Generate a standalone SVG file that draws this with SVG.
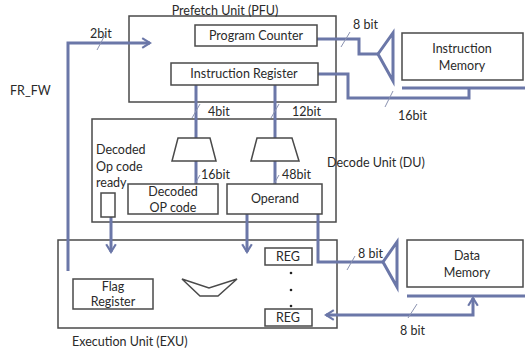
<svg xmlns="http://www.w3.org/2000/svg" width="525" height="350" viewBox="0 0 525 350">
<defs>
<style>
.box{fill:#fff;stroke:#4a4a4a;stroke-width:1.5}
.unit{fill:none;stroke:#4a4a4a;stroke-width:1.5}
.t{font-family:Lato,"Open Sans","Liberation Sans",sans-serif;font-size:12.5px;fill:#2a2a2a}
.c{text-anchor:middle}
.w{fill:none;stroke:#6b77a8;stroke-width:3;stroke-linejoin:miter}
.tick{stroke:#8a92b0;stroke-width:1}
.bar{stroke:#6b77a8;stroke-width:3}
</style>
<marker id="arr" viewBox="0 0 10 10" refX="8" refY="5" markerWidth="4" markerHeight="4" orient="auto-start-reverse" markerUnits="strokeWidth">
<path d="M1.5,1 L8,5 L1.5,9" fill="none" stroke="#6b77a8" stroke-width="1.8"/>
</marker>
</defs>
<rect width="525" height="350" fill="#fff"/>

<g id="pfu">
<rect class="unit" x="129" y="16" width="207" height="86"/>
<text class="t c" x="225" y="15">Prefetch Unit (PFU)</text>
</g>
<g id="du">
<rect class="unit" x="92" y="119" width="244" height="103"/>
<text class="t" x="327" y="167">Decode Unit (DU)</text>
<text class="t" x="96" y="154">Decoded</text>
<text class="t" x="96" y="171">Op code</text>
<text class="t" x="96" y="187">ready</text>
</g>
<g id="exu">
<rect class="unit" x="58" y="240" width="279" height="88"/>
<text class="t" x="72" y="346">Execution Unit (EXU)</text>
</g>

<g id="connectors">
<polyline class="w" points="68,271 68,43 150,43" marker-end="url(#arr)"/>
<polyline class="w" points="313,39 359,39 359,54 378,54"/>
<polyline class="w" points="313,74 348,74 348,98 469,98 469,88"/>
<line class="w" x1="196" y1="85" x2="196" y2="138"/>
<line class="w" x1="275" y1="85" x2="275" y2="138"/>
<line class="w" x1="196" y1="161" x2="196" y2="184"/>
<line class="w" x1="275" y1="161" x2="275" y2="184"/>
<line class="w" x1="111" y1="217" x2="111" y2="252" marker-end="url(#arr)"/>
<line class="w" x1="247" y1="214" x2="247" y2="252" marker-end="url(#arr)"/>
<polyline class="w" points="318,214 318,262 383,262"/>
<polyline class="w" points="326,315 473,315 473,298" marker-start="url(#arr)" marker-end="url(#arr)"/>
<line class="tick" x1="97" y1="50" x2="105" y2="35"/>
<line class="tick" x1="341" y1="47" x2="350" y2="32"/>
<line class="tick" x1="385" y1="107" x2="393" y2="91"/>
<line class="tick" x1="192" y1="118" x2="200" y2="104"/>
<line class="tick" x1="271" y1="118" x2="279" y2="104"/>
<line class="tick" x1="192" y1="189" x2="200" y2="175"/>
<line class="tick" x1="271" y1="189" x2="279" y2="175"/>
<line class="tick" x1="347" y1="270" x2="355" y2="256"/>
<line class="tick" x1="408" y1="318" x2="417" y2="304"/>
<text class="t" x="90" y="38">2bit</text>
<text class="t" x="353" y="29">8 bit</text>
<text class="t" x="398" y="120">16bit</text>
<text class="t" x="208" y="116">4bit</text>
<text class="t" x="292" y="116">12bit</text>
<text class="t" x="201" y="179">16bit</text>
<text class="t" x="282" y="179">48bit</text>
<text class="t" x="358" y="258">8 bit</text>
<text class="t" x="400" y="335">8 bit</text>
<text class="t" x="10" y="95">FR_FW</text>
</g>

<g id="program-counter">
<rect class="box" x="195" y="25" width="122" height="21"/>
<text class="t c" x="256" y="40">Program Counter</text>
</g>
<g id="instruction-register">
<rect class="box" x="171" y="63" width="147" height="22"/>
<text class="t c" x="244" y="78">Instruction Register</text>
</g>
<g id="instruction-memory">
<rect class="box" x="402" y="33" width="121" height="47"/>
<text class="t c" x="462" y="53">Instruction</text>
<text class="t c" x="462" y="70">Memory</text>
<line class="bar" x1="402" y1="88" x2="525" y2="88"/>
<polygon class="w" points="378,54 393,33 393,81"/>
</g>
<g id="mux-opcode">
<polygon class="box" points="178,138 210,138 216,161 172,161"/>
</g>
<g id="mux-operand">
<polygon class="box" points="257,138 292,138 299,161 251,161"/>
</g>
<g id="ready-flag">
<rect class="box" x="101" y="193" width="14" height="24"/>
</g>
<g id="decoded-opcode">
<rect class="box" x="128" y="184" width="90" height="30"/>
<text class="t c" x="173" y="196">Decoded</text>
<text class="t c" x="173" y="212">OP code</text>
</g>
<g id="operand">
<rect class="box" x="227" y="184" width="95" height="30"/>
<text class="t c" x="275" y="203">Operand</text>
</g>
<g id="flag-register">
<rect class="box" x="73" y="279" width="80" height="30"/>
<text class="t c" x="113" y="291">Flag</text>
<text class="t c" x="113" y="306">Register</text>
</g>
<g id="alu">
<polygon class="box" points="182,279 209,288 237,279 218,296 200,296"/>
</g>
<g id="registers">
<rect class="box" x="265" y="248" width="47" height="17"/>
<text class="t c" x="288" y="261">REG</text>
<rect class="box" x="265" y="309" width="47" height="17"/>
<text class="t c" x="288" y="322">REG</text>
<circle cx="291" cy="273" r="1.3" fill="#222"/>
<circle cx="291" cy="290" r="1.3" fill="#222"/>
<circle cx="291" cy="306" r="1.3" fill="#222"/>
</g>
<g id="data-memory">
<rect class="box" x="407" y="240" width="116" height="47"/>
<text class="t c" x="467" y="260">Data</text>
<text class="t c" x="467" y="277">Memory</text>
<line class="bar" x1="407" y1="296" x2="525" y2="296"/>
<polygon class="w" points="383,262 397,242 397,287"/>
</g>
</svg>
